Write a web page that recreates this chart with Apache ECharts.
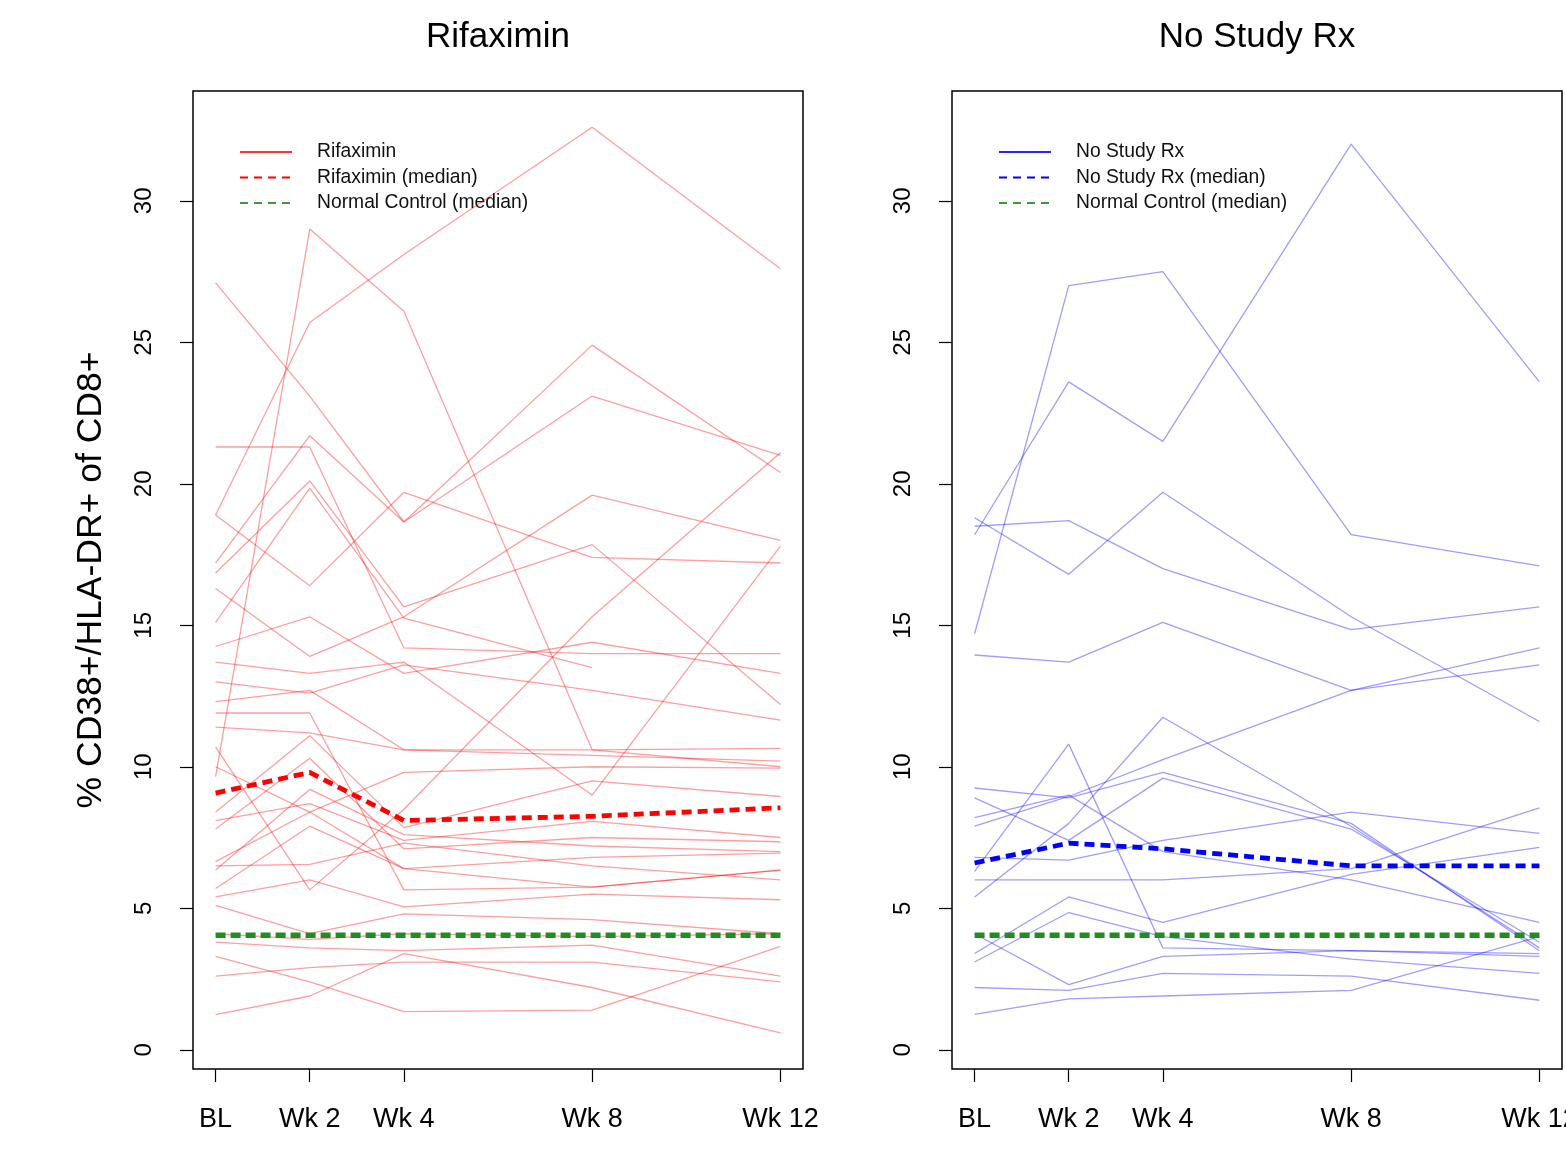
<!DOCTYPE html>
<html>
<head>
<meta charset="utf-8">
<script src="https://cdn.jsdelivr.net/npm/echarts@6/dist/echarts.min.js"></script>
<style>
html,body{margin:0;padding:0;background:#fff;overflow:hidden;}
#chart{width:1566px;height:1154px;}
</style>
</head>
<body>
<div id="chart"></div>
<script>
// ---- data ----
const weeks = [0, 2, 4, 8, 12];
const weekLabels = ['BL', 'Wk 2', 'Wk 4', 'Wk 8', 'Wk 12'];
const yTicks = [0, 5, 10, 15, 20, 25, 30];

const rifaximinSubjects = [
  [18.9, 25.7, 28.1, 32.6, 27.6],
  [9.65, 29.0, 26.1, 10.6, 10.0],
  [27.1, 23.1, 18.65, 24.9, 20.4],
  [17.2, 21.7, 18.65, 23.1, 21.0],
  [21.3, 21.3, 14.2, 14.0, 14.0],
  [18.9, 16.4, 19.7, 17.4, 17.2],
  [16.85, 20.1, 15.65, 17.85, 12.2],
  [15.1, 19.85, 15.25, 13.5, null],
  [16.3, 13.9, 15.3, 19.6, 18.0],
  [14.25, 15.3, 13.3, 14.4, 13.3],
  [10.7, 5.65, 8.5, 15.3, 21.1],
  [13.7, 13.3, 13.7, 9.0, 17.8],
  [13.0, 12.6, 13.6, 12.7, 11.65],
  [11.9, 11.9, 5.65, 5.75, 6.35],
  [12.3, 12.7, 10.6, 10.4, 10.2],
  [11.4, 11.2, 10.6, 10.6, 10.65],
  [10.0, 8.4, 9.8, 10.0, 9.95],
  [8.4, 11.1, 7.85, 9.5, 8.95],
  [8.1, 8.7, 7.4, 8.07, 7.5],
  [7.8, 10.3, 7.1, 7.5, 7.35],
  [6.65, 8.4, 6.4, 6.8, 6.95],
  [6.5, 6.55, 7.3, 6.5, 6.0],
  [5.7, 7.9, 6.4, 5.75, 6.35],
  [5.4, 6.0, 5.05, 5.5, 5.3],
  [6.35, 9.2, 7.6, 7.2, 7.0],
  [5.1, 4.1, 4.8, 4.6, 4.1],
  [4.1, 3.9, 4.1, 4.0, 4.1],
  [3.8, 3.6, 3.5, 3.7, 2.6],
  [3.3, 2.4, 1.35, 1.4, 3.65],
  [2.6, 2.9, 3.1, 3.1, 2.4],
  [1.24, 1.9, 3.4, 2.2, 0.6]
];
const rifaximinMedian = [9.07, 9.8, 8.1, 8.25, 8.55];

const noRxSubjects = [
  [14.7, 27.0, 27.5, 18.2, 17.1],
  [18.2, 23.6, 21.5, 32.0, 23.6],
  [18.8, 16.8, 19.7, 15.3, 11.6],
  [18.5, 18.7, 17.0, 14.85, 15.65],
  [13.95, 13.7, 15.1, 12.7, 14.2],
  [7.9, 8.95, 10.25, 12.7, 13.6],
  [6.3, 10.8, 3.6, 3.5, 3.3],
  [5.4, 8.0, 11.75, 7.9, 3.6],
  [9.25, 8.9, 9.8, 8.0, 3.5],
  [8.9, 7.4, 9.6, 7.8, 3.8],
  [6.8, 6.7, 7.4, 8.4, 7.65],
  [6.0, 6.0, 6.0, 6.4, 8.55],
  [8.2, 9.0, 7.0, 6.0, 4.5],
  [1.25, 1.8, 1.9, 2.1, 4.0],
  [2.2, 2.1, 2.7, 2.6, 1.75],
  [4.1, 2.3, 3.3, 3.5, 3.4],
  [3.1, 4.85, 4.0, 3.2, 2.7],
  [3.4, 5.4, 4.5, 6.2, 7.15]
];
const noRxMedian = [6.6, 7.3, 7.1, 6.5, 6.5];
const normalControlMedian = [4.05, 4.05, 4.05, 4.05, 4.05];

// ---- chart ----
const FONT = '"Liberation Sans", Arial, sans-serif';
const chart = echarts.init(document.getElementById('chart'), null, {renderer: 'canvas'});

function toPairs(vals) {
  const out = [];
  vals.forEach((v, i) => { if (v !== null) out.push([weeks[i], v]); });
  return out;
}

function makeAxes(idx, showName) {
  const x = {
    type: 'value', gridIndex: idx, min: -0.48, max: 12.48,
    axisLine: {show: false, onZero: false},
    splitLine: {show: false},
    axisTick: {show: true, customValues: weeks, length: 13, lineStyle: {color: '#000', width: 1.2}},
    axisLabel: {
      show: true, customValues: weeks, margin: 37,
      fontSize: 27, fontFamily: FONT, color: '#000',
      formatter: v => weekLabels[weeks.indexOf(v)]
    }
  };
  const y = {
    type: 'value', gridIndex: idx, min: -0.68, max: 33.88,
    axisLine: {show: false, onZero: false},
    splitLine: {show: false},
    axisTick: {show: true, customValues: yTicks, length: 13, lineStyle: {color: '#000', width: 1.2}},
    axisLabel: {
      show: true, customValues: yTicks, rotate: 90, margin: 37,
      fontSize: 24, fontFamily: FONT, color: '#000'
    }
  };
  if (showName) {
    y.name = '% CD38+/HLA-DR+ of CD8+';
    y.nameLocation = 'middle';
    y.nameRotate = 90;
    y.nameGap = 84;
    y.nameTextStyle = {fontSize: 35.5, fontFamily: FONT, color: '#000'};
  }
  return {x, y};
}

const a0 = makeAxes(0, true);
const a1 = makeAxes(1, false);

const series = [];
rifaximinSubjects.forEach((vals) => {
  series.push({
    type: 'line', name: 'Rifaximin', xAxisIndex: 0, yAxisIndex: 0,
    data: toPairs(vals), symbol: 'none', silent: true, z: 2,
    lineStyle: {color: 'rgba(255,0,0,0.38)', width: 1.3}
  });
});
noRxSubjects.forEach((vals) => {
  series.push({
    type: 'line', name: 'No Study Rx', xAxisIndex: 1, yAxisIndex: 1,
    data: toPairs(vals), symbol: 'none', silent: true, z: 2,
    lineStyle: {color: 'rgba(0,0,255,0.38)', width: 1.3}
  });
});
[0, 1].forEach(k => {
  series.push({
    type: 'line', name: 'Normal Control (median)', xAxisIndex: k, yAxisIndex: k,
    data: toPairs(normalControlMedian), symbol: 'none', silent: true, z: 4,
    lineStyle: {color: '#228B22', width: 5.5, type: [10, 5]}
  });
});
series.push({
  type: 'line', name: 'Rifaximin (median)', xAxisIndex: 0, yAxisIndex: 0,
  data: toPairs(rifaximinMedian), symbol: 'none', silent: true, z: 5,
  lineStyle: {color: '#FF0000', width: 4.8, type: [10, 6]}
});
series.push({
  type: 'line', name: 'No Study Rx (median)', xAxisIndex: 1, yAxisIndex: 1,
  data: toPairs(noRxMedian), symbol: 'none', silent: true, z: 5,
  lineStyle: {color: '#0000FF', width: 4.8, type: [10, 6]}
});

function legendGroup(x0, items) {
  const children = [];
  items.forEach((it, i) => {
    const y = 152 + i * 25.5;
    children.push({
      type: 'line', shape: {x1: x0, y1: y, x2: x0 + 52, y2: y},
      style: {stroke: it.color, lineWidth: 2, lineDash: it.dash ? [8, 6] : null}
    });
    children.push({
      type: 'text', x: x0 + 77, y: y,
      style: {text: it.text, fontSize: 19.3, fontFamily: FONT, fill: '#111', textVerticalAlign: 'middle', textAlign: 'left'}
    });
  });
  return children;
}

const graphics = [
  {type: 'text', x: 498, y: 37, style: {text: 'Rifaximin', fontSize: 35, fontFamily: FONT, fill: '#000', textAlign: 'center', textVerticalAlign: 'middle'}},
  {type: 'text', x: 1257, y: 37, style: {text: 'No Study Rx', fontSize: 35, fontFamily: FONT, fill: '#000', textAlign: 'center', textVerticalAlign: 'middle'}}
].concat(legendGroup(240, [
  {text: 'Rifaximin', color: 'rgba(255,0,0,0.8)', dash: false},
  {text: 'Rifaximin (median)', color: '#FF0000', dash: true},
  {text: 'Normal Control (median)', color: '#3c9a3c', dash: true}
])).concat(legendGroup(999, [
  {text: 'No Study Rx', color: 'rgba(0,0,255,0.85)', dash: false},
  {text: 'No Study Rx (median)', color: '#0000FF', dash: true},
  {text: 'Normal Control (median)', color: '#3c9a3c', dash: true}
]));

chart.setOption({
  animation: false,
  backgroundColor: '#fff',
  grid: [
    {left: 193, top: 91, width: 610, height: 978, show: true, borderColor: '#000', borderWidth: 1.5, backgroundColor: 'transparent', outerBoundsMode: 'none'},
    {left: 952, top: 91, width: 610, height: 978, show: true, borderColor: '#000', borderWidth: 1.5, backgroundColor: 'transparent', outerBoundsMode: 'none'}
  ],
  xAxis: [a0.x, a1.x],
  yAxis: [a0.y, a1.y],
  graphic: graphics,
  series: series
});
</script>
</body>
</html>
